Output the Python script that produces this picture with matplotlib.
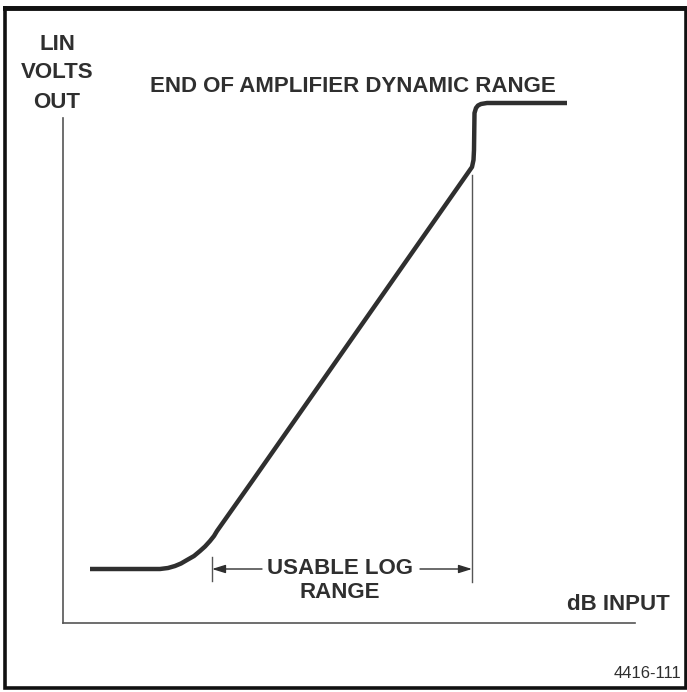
import matplotlib.pyplot as plt

plt.rcParams['font.family'] = ['Liberation Sans', 'DejaVu Sans']

# transfer curve of the log amplifier (diagram units, y grows downward)
curve_x = [90, 150, 160, 168, 175, 181, 187, 194, 200, 205, 210, 214, 217, 253,
           472, 473.5, 474, 474.5, 476, 478, 481, 487, 567]
curve_y = [569, 569, 569, 568, 566, 563.5, 560, 556, 551, 546.5, 541, 536, 531, 480,
           167, 160, 150, 113, 108, 105.5, 104, 103, 103]

# usable log range limits on the input axis
range_start = 212
range_end = 472

ink = '#2f2f2f'

fig = plt.figure(figsize=(6.87, 6.92), dpi=100)
ax = fig.add_axes([0, 0, 1, 1])
ax.set_xlim(0, 687)
ax.set_ylim(692, 0)
ax.axis('off')

# outer frame
ax.plot([5, 5, 686, 686, 5], [8, 688, 688, 8, 8], color='#111111', lw=2.6,
        solid_joinstyle='miter')
ax.plot([5, 686], [8, 8], color='#111111', lw=3.5)

# axes of the diagram
ax.plot([63, 63], [118, 623], color='#555555', lw=1.2)
ax.plot([63, 635], [623, 623], color='#555555', lw=1.2)

# the response curve
ax.plot(curve_x, curve_y, color=ink, lw=3.2, solid_capstyle='butt',
        solid_joinstyle='round')

# range markers
ax.plot([range_start, range_start], [557, 581], color='#555555', lw=1)
ax.plot([range_end, range_end], [175, 582], color='#555555', lw=1)
arrow = dict(arrowstyle='-|>,head_length=0.8,head_width=0.25', color=ink, lw=1,
             shrinkA=0, shrinkB=0)
ax.annotate('', xy=(range_start, 569), xytext=(262, 569), arrowprops=arrow)
ax.annotate('', xy=(range_end, 569), xytext=(420, 569), arrowprops=arrow)

fs = 16
txt = dict(fontsize=fs, color=ink, fontweight='bold')
ax.text(340, 569, 'USABLE LOG', ha='center', va='center', **txt)
ax.text(340, 593, 'RANGE', ha='center', va='center', **txt)
ax.text(57, 45, 'LIN', ha='center', va='center', **txt)
ax.text(57, 73, 'VOLTS', ha='center', va='center', **txt)
ax.text(57, 102, 'OUT', ha='center', va='center', **txt)
ax.text(150, 87, 'END OF AMPLIFIER DYNAMIC RANGE', ha='left', va='center', **txt)
ax.text(670, 605, 'dB INPUT', ha='right', va='center', **txt)
ax.text(681, 673, '4416-111', ha='right', va='center', fontsize=12, color=ink)

plt.savefig('out.png', dpi=100)
